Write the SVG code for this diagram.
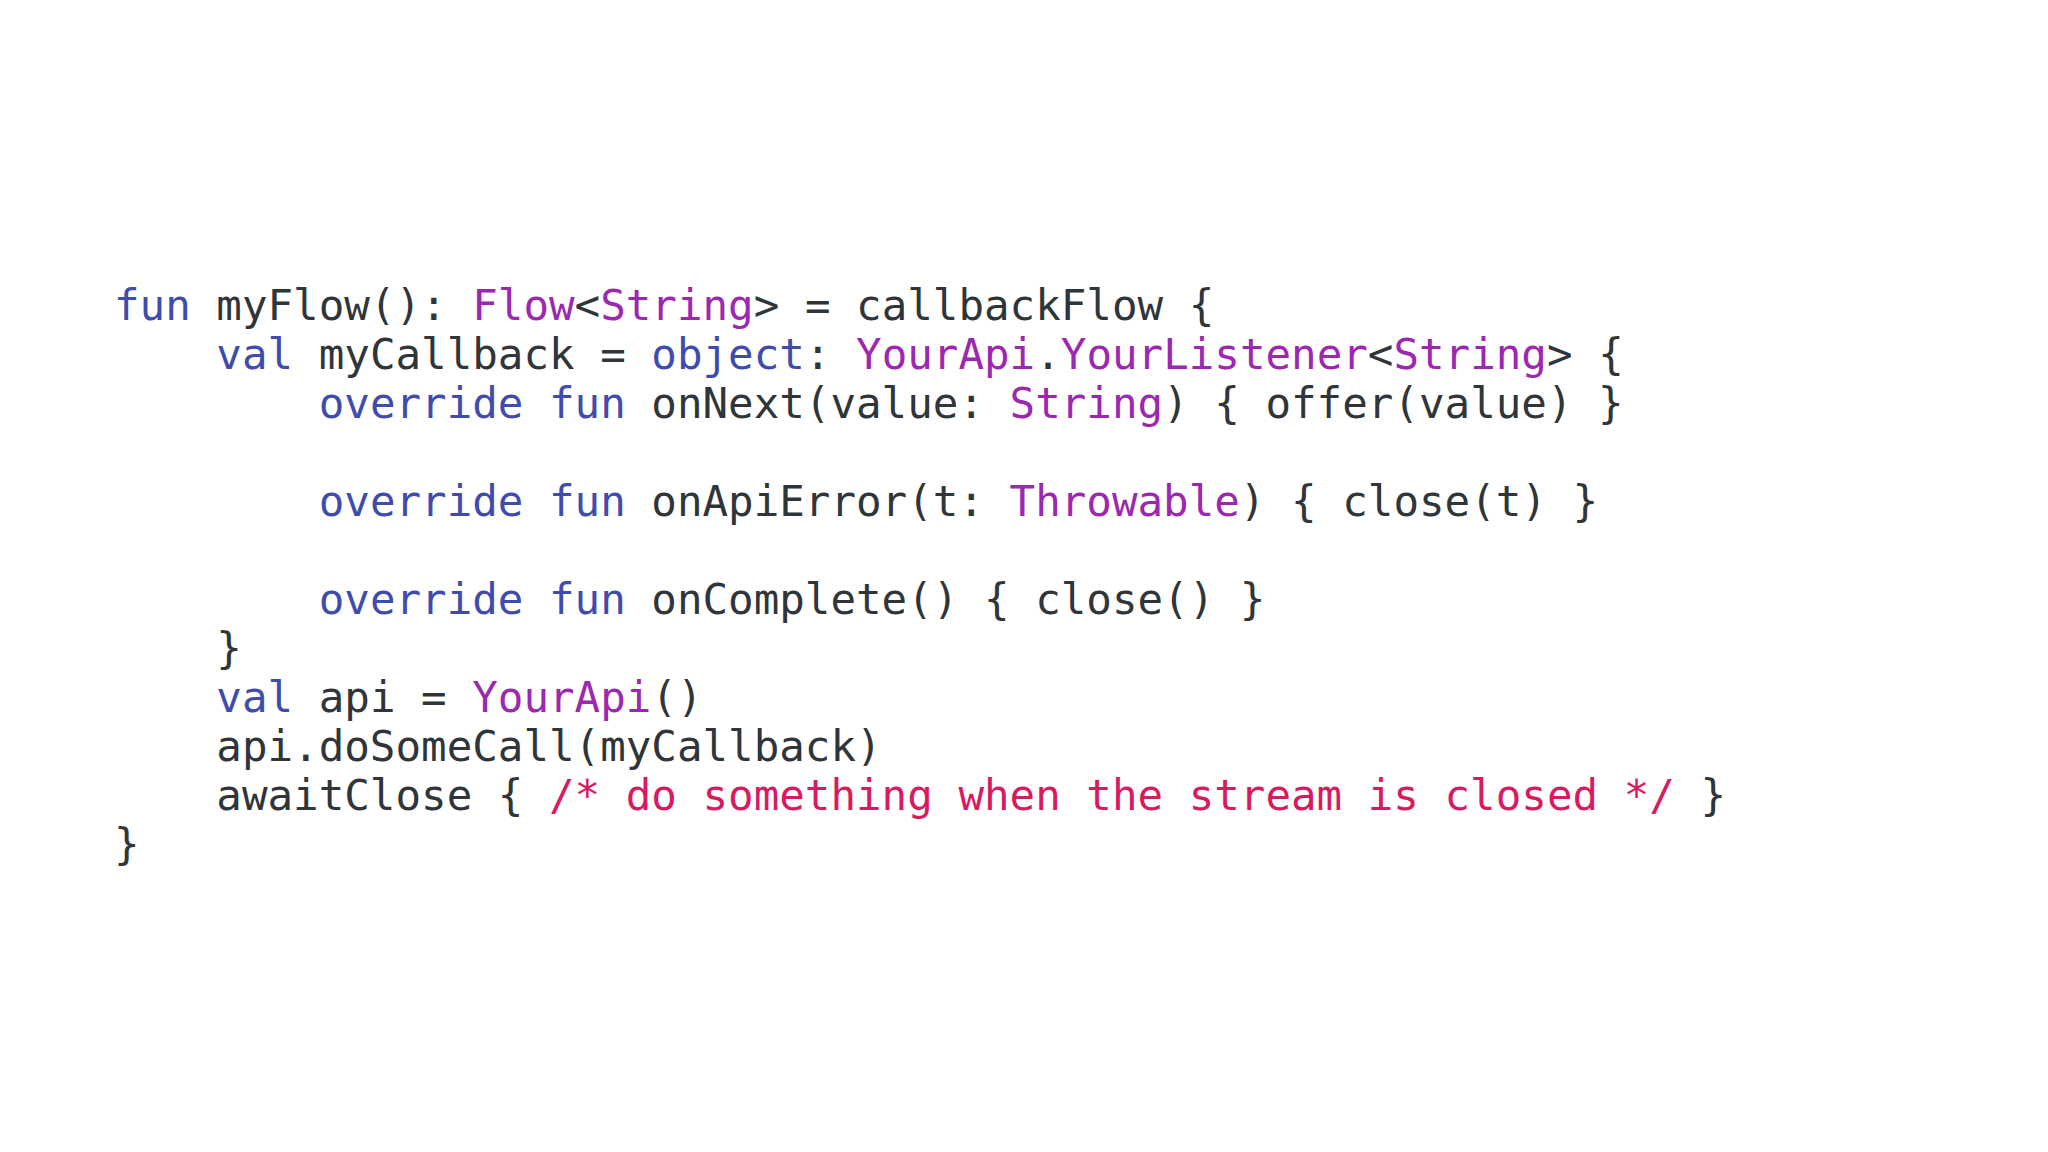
<svg xmlns="http://www.w3.org/2000/svg" width="2048" height="1152" viewBox="0 0 2048 1152">
<style>
text{font-family:"DejaVu Sans Mono","Liberation Mono",monospace;font-size:42.5px;fill:#2f3539;white-space:pre}
.k{fill:#3f4cae}.t{fill:#9c27b0}.c{fill:#d81b60}
</style>
<rect width="2048" height="1152" fill="#ffffff"/>
<g id="code" xml:space="preserve">
<text x="114" y="320"><tspan class="k">fun</tspan> myFlow(): <tspan class="t">Flow</tspan>&lt;<tspan class="t">String</tspan>&gt; = callbackFlow {</text>
<text x="114" y="369">    <tspan class="k">val</tspan> myCallback = <tspan class="k">object</tspan>: <tspan class="t">YourApi</tspan>.<tspan class="t">YourListener</tspan>&lt;<tspan class="t">String</tspan>&gt; {</text>
<text x="114" y="418">        <tspan class="k">override fun</tspan> onNext(value: <tspan class="t">String</tspan>) { offer(value) }</text>
<text x="114" y="516">        <tspan class="k">override fun</tspan> onApiError(t: <tspan class="t">Throwable</tspan>) { close(t) }</text>
<text x="114" y="614">        <tspan class="k">override fun</tspan> onComplete() { close() }</text>
<text x="114" y="663">    }</text>
<text x="114" y="712">    <tspan class="k">val</tspan> api = <tspan class="t">YourApi</tspan>()</text>
<text x="114" y="761">    api.doSomeCall(myCallback)</text>
<text x="114" y="810">    awaitClose { <tspan class="c">/* do something when the stream is closed */</tspan> }</text>
<text x="114" y="859">}</text>
</g>
</svg>
